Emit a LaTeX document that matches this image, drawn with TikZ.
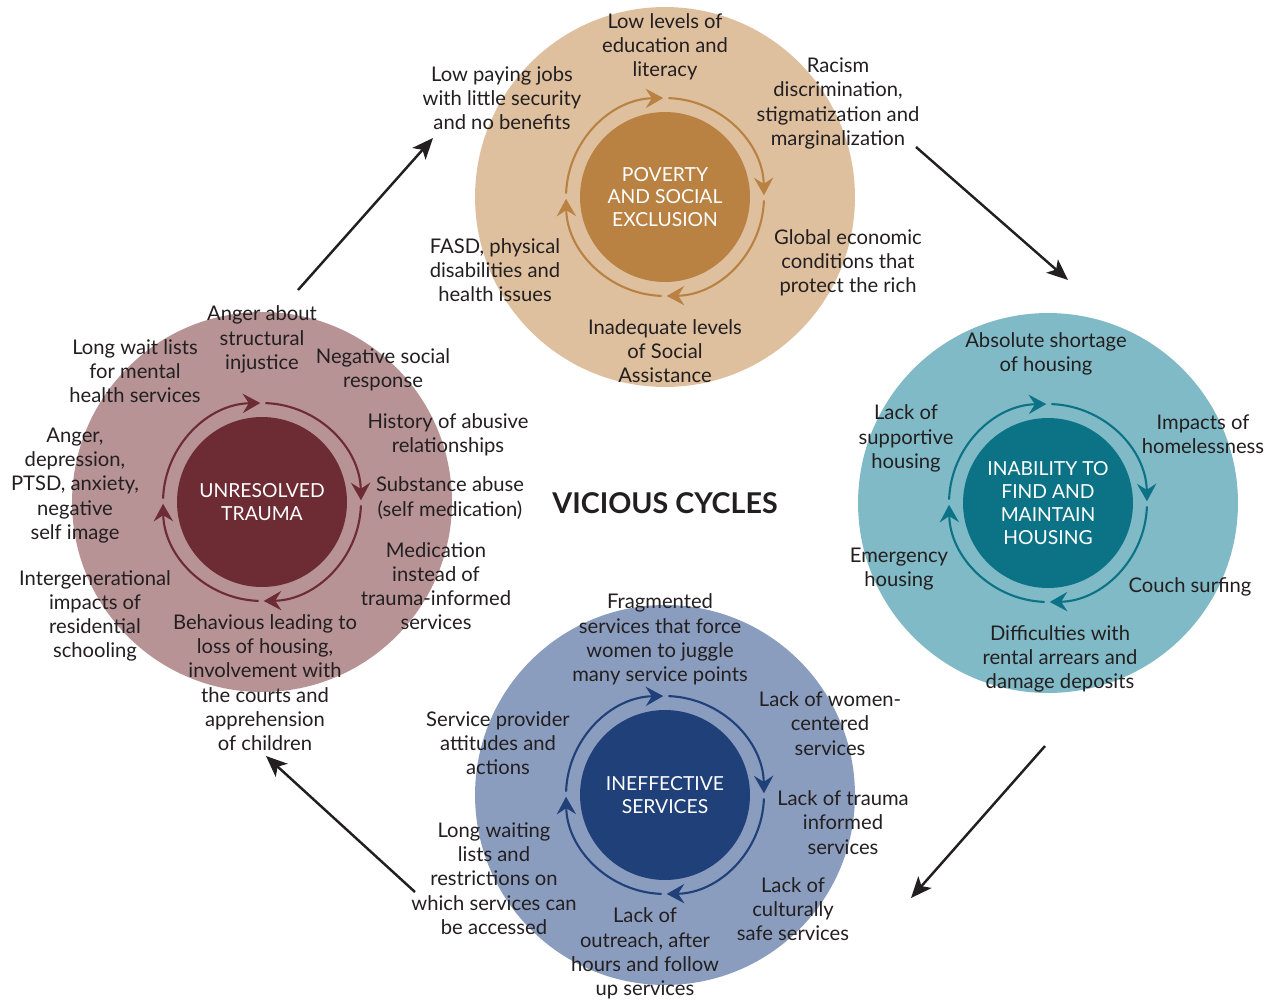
\documentclass[tikz,border=0pt]{standalone}
\usepackage{fontspec}
\setmainfont{Lato}
\usetikzlibrary{arrows.meta}
\definecolor{txt}{HTML}{231F20}
\definecolor{povO}{HTML}{DEC09F}
\definecolor{povI}{HTML}{B98243}
\definecolor{houO}{HTML}{80BAC6}
\definecolor{houI}{HTML}{0C7386}
\definecolor{serO}{HTML}{8B9DBE}
\definecolor{serI}{HTML}{1F4079}
\definecolor{traO}{HTML}{B79396}
\definecolor{traI}{HTML}{6D2B34}
\newcommand\cyclering[2]{%
  \foreach \e in {91,1,271,181}{%
    \draw[ring,draw=#2] (#1) ++(\e+87:1.98cm) arc[start angle=\e+87,end angle=\e,radius=1.98cm];}}
\begin{document}
\begin{tikzpicture}[x=0.02cm,y=-0.02cm,
  lbl/.style={align=center,text=txt,font=\fontsize{11.5}{13.8}\selectfont,inner sep=0pt},
  core/.style={circle,minimum size=3.4cm,inner sep=0pt,text=white,align=center,font=\fontsize{11}{13}\selectfont},
  outer/.style={circle,minimum size=7.6cm,inner sep=0pt},
  ring/.style={line width=1.2pt,-{Stealth[length=10pt,width=11pt,inset=3.5pt]}},
  flow/.style={line width=1.4pt,draw=txt,-{Stealth[length=12pt,width=10pt,inset=3pt]}}]
\useasboundingbox (0,0) rectangle (1277,1004);
\fill[white] (0,0) rectangle (1277,1004);

% circles
\node[outer,fill=povO] (pov) at (665,197) {};
\node[outer,fill=houO] (hou) at (1048,503) {};
\node[outer,fill=serO] (ser) at (665,795) {};
\node[outer,fill=traO] (tra) at (262,502) {};

\node[core,fill=povI] (povc) at (665,197) {POVERTY\\AND SOCIAL\\EXCLUSION};
\node[core,fill=houI] (houc) at (1048,503) {INABILITY TO\\FIND AND\\MAINTAIN\\HOUSING};
\node[core,fill=serI] (serc) at (665,795) {INEFFECTIVE\\SERVICES};
\node[core,fill=traI] (trac) at (262,502) {UNRESOLVED\\TRAUMA};

\cyclering{povc}{povI}
\cyclering{houc}{houI}
\cyclering{serc}{serI}
\cyclering{trac}{traI}

% title
\node[text=txt,font=\fontsize{16.3}{19}\selectfont\bfseries] (title) at (665,503) {VICIOUS CYCLES};

% poverty labels
\node[lbl] (p1) at (665,47) {Low levels of\\education and\\literacy};
\node[lbl] (p2) at (502,98) {Low paying jobs\\with little security\\and no benefits};
\node[lbl] (p3) at (838,103.5) {Racism\\discrimination,\\stigmatization and\\marginalization};
\node[lbl] (p4) at (848,263) {Global economic\\conditions that\\protect the rich};
\node[lbl] (p5) at (665,351) {Inadequate levels\\of Social\\Assistance};
\node[lbl] (p6) at (495,270) {FASD, physical\\disabilities and\\health issues};

% housing labels
\node[lbl] (h1) at (1046,354) {Absolute shortage\\of housing};
\node[lbl] (h2) at (1203,434) {Impacts of\\homelessness};
\node[lbl] (h3) at (906,438.5) {Lack of\\supportive\\housing};
\node[lbl] (h4) at (899,569) {Emergency\\housing};
\node[lbl] (h5) at (1190,587) {Couch surfing};
\node[lbl] (h6) at (1060,659) {Difficulties with\\rental arrears and\\damage deposits};

% services labels
\node[lbl] (s1) at (660,639.5) {Fragmented\\services that force\\women to juggle\\many service points};
\node[lbl] (s2) at (830,723.5) {Lack of women-\\centered\\services};
\node[lbl] (s3) at (498,743) {Service provider\\attitudes and\\actions};
\node[lbl] (s4) at (843,822.5) {Lack of trauma\\informed\\services};
\node[lbl] (s5) at (793,909) {Lack of\\culturally\\safe services};
\node[lbl] (s6) at (645,953.5) {Lack of\\outreach, after\\hours and follow\\up services};
\node[lbl] (s7) at (494,878.5) {Long waiting\\lists and\\restrictions on\\which services can\\be accessed};

% trauma labels
\node[lbl] (t1) at (262,339.5) {Anger about\\structural\\injustice};
\node[lbl] (t2) at (135,371) {Long wait lists\\for mental\\health services};
\node[lbl] (t3) at (383,370) {Negative social\\response};
\node[lbl] (t4) at (448,434.5) {History of abusive\\relationships};
\node[lbl] (t5) at (75,485.5) {Anger,\\depression,\\PTSD, anxiety,\\negative\\self image};
\node[lbl] (t6) at (450,498) {Substance abuse\\(self medication)};
\node[lbl] (t7) at (436,586) {Medication\\instead of\\trauma-informed\\services};
\node[lbl] (t8) at (95,616) {Intergenerational\\impacts of\\residential\\schooling};
\node[lbl] (t9) at (265,682.5) {Behavious leading to\\loss of housing,\\involvement with\\the courts and\\apprehension\\of children};

% flow arrows
\coordinate (a1s) at (298,290); \coordinate (a1e) at (433,138);
\coordinate (a2s) at (916,147); \coordinate (a2e) at (1068,280);
\coordinate (a3s) at (1045,746); \coordinate (a3e) at (911,898);
\coordinate (a4s) at (415,892); \coordinate (a4e) at (266,756);
\draw[flow] (a1s) -- (a1e);
\draw[flow] (a2s) -- (a2e);
\draw[flow] (a3s) -- (a3e);
\draw[flow] (a4s) -- (a4e);
\end{tikzpicture}
\end{document}
